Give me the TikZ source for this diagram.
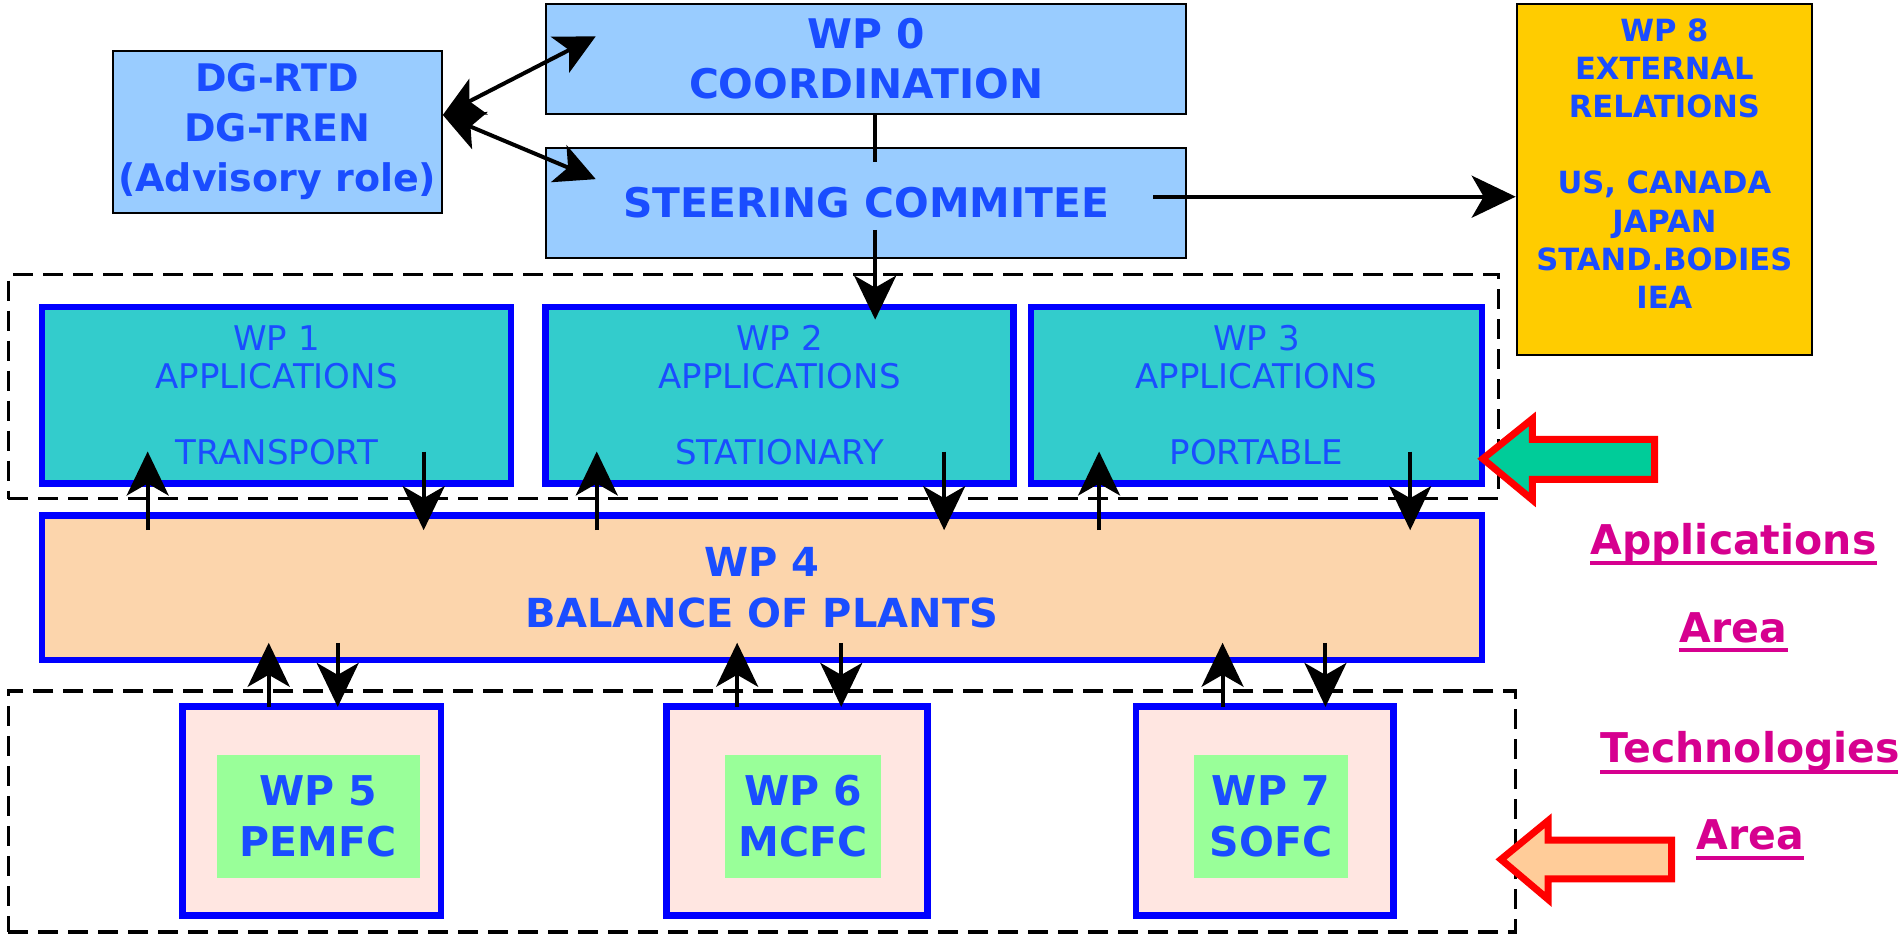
\documentclass[tikz,border=0pt]{standalone}
\usepackage{fontspec}
\setmainfont{DejaVu Sans}
\usetikzlibrary{arrows.meta,calc}
\definecolor{lblue}{RGB}{153,204,255}
\definecolor{tealbox}{RGB}{51,204,204}
\definecolor{peach}{RGB}{252,213,172}
\definecolor{rose}{RGB}{255,230,225}
\definecolor{lgreen}{RGB}{153,255,153}
\definecolor{gold}{RGB}{255,204,0}
\definecolor{tblue}{RGB}{26,77,255}
\definecolor{bblue}{RGB}{0,0,255}
\definecolor{magen}{RGB}{214,0,143}
\definecolor{fgreen}{RGB}{0,204,153}
\definecolor{forange}{RGB}{255,204,153}
\definecolor{fred}{RGB}{255,0,0}
\tikzset{
  sz/.style 2 args={minimum width=#1*0.60523pt,minimum height=#2*0.60523pt,inner sep=0pt},
  thinbox/.style={draw=black,line width=1pt,text=tblue,align=center,
    font=\bfseries\fontsize{20.4}{25}\selectfont},
  appbox/.style={draw=bblue,line width=3.2pt,fill=tealbox,text=tblue,align=center,
    font=\fontsize{17}{19}\selectfont},
  bopbox/.style={draw=bblue,line width=3.2pt,fill=peach,text=tblue,align=center,
    font=\bfseries\fontsize{20}{25.5}\selectfont},
  techbox/.style={draw=bblue,line width=3.2pt,fill=rose},
  cellbox/.style={fill=lgreen,text=tblue,align=center,
    font=\bfseries\fontsize{20.5}{25.5}\selectfont},
  dashbox/.style={draw=black,line width=1.7pt,dash pattern=on 10pt off 5pt},
  arr/.style={line width=2pt,-{Stealth[length=22pt,width=21pt,inset=6pt]}},
  dblarr/.style={line width=2pt,{Stealth[length=20pt,width=20pt,inset=5pt]}-{Stealth[length=20pt,width=20pt,inset=5pt]}},
  fatarrow/.style={draw=fred,line width=3.5pt,line join=miter},
  areatext/.style={text=magen,inner xsep=0pt,font=\bfseries\fontsize{20.5}{24}\selectfont},
  uline/.style={draw=magen,line width=2.2pt}
}
\begin{document}
\begin{tikzpicture}[x=0.60523pt,y=-0.60523pt]
\useasboundingbox (0,0) rectangle (1568,772);

% dashed areas
\node[dashbox,sz={1231}{185}] (apparea) at (622.5,319.5) {};
\node[dashbox,sz={1245}{199}] (techarea) at (629.5,670.5) {};

% top boxes
\node[thinbox,fill=lblue,sz={272}{134},font=\bfseries\fontsize{19}{25}\selectfont] (dg) at (229,109) {DG-RTD\\DG-TREN\\(Advisory role)};
\node[thinbox,fill=lblue,sz={529}{91}] (wp0) at (715.5,48.5) {WP 0\\COORDINATION};
\node[thinbox,fill=lblue,sz={529}{91}] (st) at (715.5,167.5) {STEERING COMMITEE};
\node[thinbox,fill=gold,sz={244}{290}] (wp8) at (1375,148) {};
\node[text=tblue,align=center,font=\bfseries\fontsize{15.3}{19.1}\selectfont,inner sep=0pt] (wp8t) at (1375,135)
  {WP 8\\EXTERNAL\\RELATIONS\\[19.1pt]US, CANADA\\JAPAN\\STAND.BODIES\\IEA};

% application boxes
\node[appbox,sz={387.6}{145.6}] (wp1) at (228.5,326.5) {WP 1\\APPLICATIONS\\[19pt]TRANSPORT};
\node[appbox,sz={386.6}{145.6}] (wp2) at (644,326.5) {WP 2\\APPLICATIONS\\[19pt]STATIONARY};
\node[appbox,sz={372.6}{145.6}] (wp3) at (1038,326.5) {WP 3\\APPLICATIONS\\[19pt]PORTABLE};

% balance of plants
\node[bopbox,sz={1189.6}{119.6}] (wp4) at (629.5,485.5) {WP 4\\BALANCE OF PLANTS};

% technology boxes
\node[techbox,sz={213.6}{172.6}] (wp5o) at (257.5,670) {};
\node[cellbox,sz={168}{101}] (wp5) at (263,674.5) {WP 5\\PEMFC};
\node[techbox,sz={215.6}{172.6}] (wp6o) at (658.5,670) {};
\node[cellbox,sz={129}{101}] (wp6) at (663.5,674.5) {WP 6\\MCFC};
\node[techbox,sz={212.6}{172.6}] (wp7o) at (1045,670) {};
\node[cellbox,sz={128}{101}] (wp7) at (1050,674.5) {WP 7\\SOFC};

% DG arrows
\coordinate (dgp) at ($(dg.east)+(0,-14)$);
\coordinate (wp0p) at ($(wp0.west)+(42,-18.5)$);
\coordinate (stp) at ($(st.west)+(42,-19.5)$);
\draw[dblarr] (dgp) -- (wp0p);
\draw[dblarr] (dgp) -- (stp);

% WP0 - steering
\coordinate (w0s) at ($(wp0.south)+(7.5,0)$);
\coordinate (sti) at ($(st.north)+(7.5,13)$);
\draw[line width=2pt] (w0s) -- (sti);
\coordinate (sts) at ($(st.south)+(7.5,-24)$);
\coordinate (w2t) at ($(wp2.north)+(79,13)$);
\draw[arr] (sts) -- (sts |- w2t);
\coordinate (ste) at ($(st.east)+(-28,-5)$);
\draw[arr] (ste) -- (ste -| wp8.west);

% app <-> BOP arrows
\foreach \u/\d in {122/350,493/780,908/1165}{
  \coordinate (up\u) at (\u,438);
  \coordinate (dn\d) at (\d,373);
  \draw[arr] (up\u) -- (\u,373);
  \draw[arr] (dn\d) -- (\d,438);
}
% BOP <-> tech arrows
\foreach \u/\d in {222/279,609/695,1010/1095}{
  \coordinate (tu\u) at (\u,584);
  \coordinate (td\d) at (\d,531);
  \draw[arr] (tu\u) -- (\u,531);
  \draw[arr] (td\d) -- (\d,584);
}

% fat arrows
\draw[fatarrow,fill=fgreen] (1225,379) -- (1266,346) -- (1266,363) -- (1367,363) -- (1367,396) -- (1266,396) -- (1266,413) -- cycle;
\draw[fatarrow,fill=forange] (1240,710) -- (1279,678) -- (1279,694) -- (1381,694) -- (1381,726) -- (1279,726) -- (1279,743) -- cycle;

% area labels
\node[areatext,anchor=base] (la1) at (1432,458) {Applications};
\node[areatext,anchor=base] (la2) at (1432,531) {Area};
\node[areatext,anchor=base] (lt1) at (1446,630) {Technologies};
\node[areatext,anchor=base] (lt2) at (1446,702) {Area};
\foreach \n/\y in {la1/465,la2/537,lt1/638,lt2/709}{
  \draw[uline] (\n.west |- 0,\y) -- (\n.east |- 0,\y);
}
\end{tikzpicture}
\end{document}
